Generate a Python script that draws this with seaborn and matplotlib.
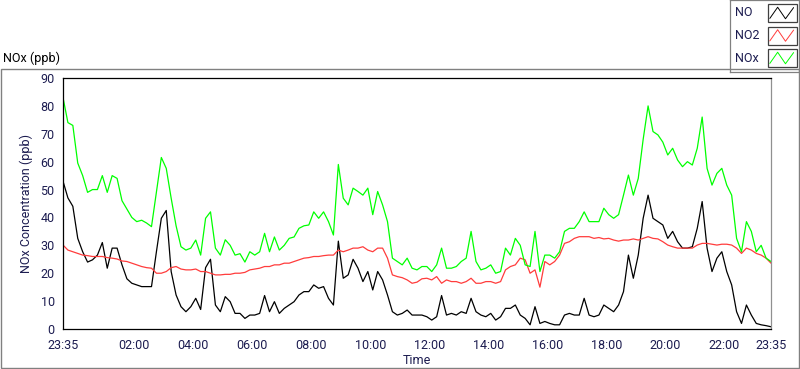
import numpy as np
import pandas as pd
import matplotlib
matplotlib.use("Agg")
import matplotlib.pyplot as plt
import seaborn as sns
from matplotlib.patches import Rectangle

# minutes after 23:35, one reading every 10 minutes
minutes = np.arange(0, 1441, 10)

no = [53, 47, 44, 32.5, 27.7, 24, 24.8, 26.5, 31, 21.8,
      29, 29, 23, 18, 16.4, 15.8, 15.2, 15.2, 15.2, 27.7,
      39.7, 42.5, 20.6, 12.2, 8, 6.2, 8, 11, 7, 22,
      25, 8.6, 6.2, 11.6, 9.8, 5.6, 5.6, 3.8, 5, 5,
      5.6, 12, 6.2, 9.8, 5.6, 7.4, 8.6, 9.8, 12.2, 13.4,
      13.4, 15.8, 14.6, 15.2, 11, 8.6, 31.5, 18.2, 19.4, 25,
      21.8, 17, 20.6, 14, 20.6, 17.6, 12.2, 6.2, 5, 5.6,
      6.8, 5, 5, 5, 4.4, 3.2, 4.4, 12, 5, 5.6,
      5, 6.2, 5.6, 11, 6.2, 5, 4.4, 5.6, 3.2, 4.4,
      7.4, 7.4, 8.6, 5, 3.8, 1.5, 8, 2, 2.7, 2,
      1.5, 1.5, 5, 5.6, 5, 5, 11, 5, 4.4, 5,
      8.6, 7.4, 6.2, 8.6, 13.4, 26.5, 18.2, 26.5, 39.7, 48,
      39.7, 38.5, 37.3, 32.5, 35, 31.3, 29, 29, 29.5, 36.1,
      45.7, 29, 20.6, 25.4, 27.7, 20.6, 15.8, 6.2, 2, 8.6,
      5, 2, 1.5, 1.2, 0.8]

no2 = [30.1, 28.3, 27.7, 27.1, 26.5, 26.3, 26, 26, 26, 25.6,
       25.4, 25.1, 24.4, 24.2, 23.6, 23, 22.4, 22, 21.8, 20,
       20, 20.6, 22, 22.4, 21.5, 21.2, 21.2, 21.5, 20.6, 20.6,
       20, 19.4, 19.4, 19.6, 19.6, 20, 20, 20.3, 21.2, 21.5,
       21.8, 22.4, 22.4, 23, 23, 23.6, 23.6, 24.2, 24.8, 25.4,
       25.6, 26, 26, 26.3, 26.5, 26.5, 28.3, 27.7, 28.3, 29,
       29, 29.5, 28.3, 27.7, 29, 29, 25.4, 19.4, 18.8, 18.4,
       17.6, 16.4, 16.8, 18, 18.2, 17.6, 18.8, 16.4, 17.6, 17,
       17, 16.4, 17, 18.2, 16.4, 16.4, 17, 17, 16.4, 17,
       21.2, 22.4, 23, 25.4, 24.8, 20, 21.2, 15, 24.2, 23,
       24.2, 26.5, 30.7, 31.3, 32.5, 33.1, 33.1, 33.1, 32.5, 32.8,
       32.3, 32.5, 31.9, 31.5, 31.9, 31.9, 32.3, 31.9, 32.5, 33.1,
       32.5, 32.3, 31.3, 30.1, 29.5, 29, 29, 29, 29, 30.1,
       30.7, 30.7, 30.4, 30.1, 30.4, 30.4, 30.1, 29, 27.1, 29,
       28.3, 27.1, 26.5, 25.4, 23.6]

nox = [83, 74, 73, 59.5, 55, 49, 50, 50, 55, 49,
       55, 54, 46, 43, 40, 38.5, 39, 38, 36.7, 49,
       61.5, 57.6, 46.9, 37, 29.5, 28.3, 29, 31.9, 26.5, 39.7,
       42, 29, 26.5, 32, 30, 26.5, 27, 24, 27.7, 26.5,
       27.7, 34.3, 27.7, 33, 28.3, 30, 32.5, 33, 36.1, 37,
       37.3, 42, 39.7, 42, 38.5, 33.7, 59, 46.9, 44.5, 50.5,
       49.3, 48, 50.5, 41, 49.3, 44.5, 38.5, 25.4, 24.2, 23,
       25.4, 21.8, 21.2, 22.4, 22.4, 20.6, 23, 29, 21.8, 21.8,
       22.4, 24.2, 25.4, 35, 24.2, 21.2, 21.8, 23, 20, 20.6,
       29, 26.5, 32.5, 30, 23, 22.4, 35, 20.6, 26.5, 26.5,
       25.4, 27.7, 35, 36.1, 36.1, 38.5, 42, 38.5, 38.5, 38.5,
       43.3, 41, 39.7, 41, 48, 55.2, 48, 54, 68, 80,
       70.8, 69.6, 67, 62.4, 64.8, 60.6, 58.2, 60, 58.8, 64.8,
       76, 57.6, 51.6, 55.8, 57.6, 51.6, 48, 32.5, 27.7, 38.5,
       35, 27.7, 30, 25.4, 24.2]

series_names = ["NO", "NO2", "NOx"]
series_colors = {"NO": "#000000", "NO2": "#ff3c3c", "NOx": "#00ff00"}

tick_pos = [0, 145, 265, 385, 505, 625, 745, 865, 985, 1105, 1225, 1345, 1440]
tick_labels = ["23:35", "02:00", "04:00", "06:00", "08:00", "10:00", "12:00",
               "14:00", "16:00", "18:00", "20:00", "22:00", "23:35"]

df = pd.DataFrame({"minute": minutes, "NO": no, "NO2": no2, "NOx": nox})
long_df = df.melt(id_vars="minute", var_name="series", value_name="ppb")

sns.set_style("white")
plt.rcParams["font.family"] = ["Roboto", "DejaVu Sans"]
label_color = "#1c1c50"
fsize = 9

fig = plt.figure(figsize=(8.0, 3.69), dpi=100)

# outer panel frame
fig.patches.append(Rectangle((0.6 / 800, 0.6 / 369), 798.4 / 800, (300 - 0.6) / 369,
                             transform=fig.transFigure, fill=False,
                             edgecolor="#808080", linewidth=1.0))

ax = fig.add_axes([63 / 800, 40 / 369, 708 / 800, 251 / 369])
sns.lineplot(data=long_df, x="minute", y="ppb", hue="series", hue_order=series_names,
             palette=series_colors, linewidth=0.9, legend=False, ax=ax)

ax.set_xlim(0, 1440)
ax.set_ylim(0, 90)
ax.set_yticks(range(0, 91, 10))
ax.set_xticks(tick_pos)
ax.set_xticklabels(tick_labels)
ax.set_xticks(np.arange(10, 1440, 15), minor=True)
ax.tick_params(axis="both", which="major", direction="out", length=4, width=0.8,
               labelsize=fsize, labelcolor=label_color, pad=2, color="black")
ax.tick_params(axis="x", which="major", length=5)
ax.tick_params(axis="x", which="minor", direction="out", length=2.5, width=0.8, color="black")
ax.set_xlabel("Time", fontsize=fsize, color=label_color, labelpad=2)
ax.set_ylabel("NOx Concentration (ppb)", fontsize=fsize, color=label_color, labelpad=5)
for side in ["left", "top", "bottom"]:
    ax.spines[side].set_color("black")
    ax.spines[side].set_linewidth(0.9)
ax.spines["right"].set_color("#909090")
ax.spines["right"].set_linewidth(0.9)

fig.text(3 / 800, 1 - 58 / 369, "NOx (ppb)", fontsize=fsize, va="center", ha="left", color="black")

# legend box in the top right corner
lax = fig.add_axes([730 / 800, 1 - 72 / 369, 69 / 800, 72 / 369])
lax.set_xlim(730, 799)
lax.set_ylim(72, 0)
lax.set_xticks([])
lax.set_yticks([])
for sp in lax.spines.values():
    sp.set_color("#808080")
    sp.set_linewidth(0.9)
zig_x = np.array([0.08, 0.35, 0.62, 0.9])
zig_y = np.array([0.8, 0.18, 0.82, 0.2])
for i, name in enumerate(series_names):
    top = 4 + i * 22.5
    lax.text(735, top + 9, name, fontsize=fsize, va="center", ha="left", color=label_color)
    lax.add_patch(Rectangle((767.5, top), 29, 18, fill=False, edgecolor="#404040", linewidth=0.9))
    lax.plot(767.5 + zig_x * 29, top + zig_y * 18, color=series_colors[name], linewidth=0.7)

fig.savefig("out.png", dpi=100)
